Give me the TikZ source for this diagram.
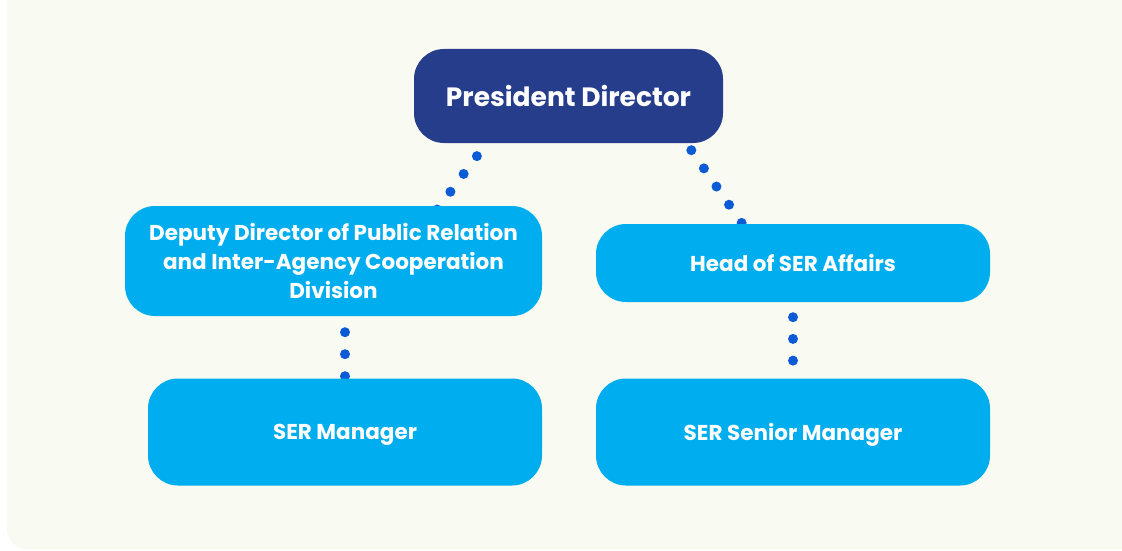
\documentclass[tikz,border=0pt]{standalone}
\usepackage{fontspec}
\setmainfont{Poppins}
\usetikzlibrary{calc}
\definecolor{navy}{HTML}{263D8C}
\definecolor{skyblue}{HTML}{00AEEF}
\definecolor{dotblue}{HTML}{0B5AD6}
\definecolor{cream}{HTML}{F9FAF1}
\pgfdeclarelayer{back}
\pgfdeclarelayer{links}
\pgfsetlayers{back,links,main}
\begin{document}
\begin{tikzpicture}[x=1pt, y=-1pt,
    box/.style={fill=skyblue, rounded corners=30pt, inner sep=0pt, align=center,
        text=white, font=\bfseries\fontsize{21.5}{29}\selectfont},
    oneline/.style={text depth=0pt},
    link/.style={dotblue, line width=10pt, line cap=round, dash pattern=on 0pt off 22pt}]

    % Nền
    \useasboundingbox (0, 0) rectangle (1122, 551);
    \begin{pgfonlayer}{back}
        \fill[white] (0, 0) rectangle (1122, 551);
        \fill[cream, rounded corners=20pt] (7, -40) rectangle (1145, 549);
    \end{pgfonlayer}

    % Các ô
    \node[box, oneline, fill=navy, minimum width=309pt, minimum height=94pt,
        font=\bfseries\fontsize{26.5}{30}\selectfont] (pres) at (568.5, 96) {President Director};
    \node[box, minimum width=417pt, minimum height=110pt] (dep) at (333.5, 261)
        {Deputy Director of Public Relation\\and Inter-Agency Cooperation\\Division};
    \node[box, oneline, minimum width=394pt, minimum height=78pt] (head) at (793, 263) {Head of SER Affairs};
    \node[box, oneline, minimum width=394pt, minimum height=107pt] (man) at (345, 432) {SER Manager};
    \node[box, oneline, minimum width=394pt, minimum height=107pt] (senior) at (793, 432) {SER Senior Manager};

    % Đường chấm nối
    \begin{pgfonlayer}{links}
        \draw[link, dash pattern=on 0pt off 22.2pt, dash phase=6.1pt]
            ($(pres.south)+(-82, 0)$) -- ($(dep.north)+(102, 6)$);
        \draw[link, dash pattern=on 0pt off 22.1pt, dash phase=13.6pt]
            ($(pres.south)+(118, 0)$) -- ($(head.north)+(-48, 4)$);
        \draw[link, dash phase=6pt] (dep.south -| man.north) -- ($(man.north)+(0, 3)$);
        \draw[link, dash pattern=on 0pt off 21.7pt, dash phase=6.7pt]
            (head.south) -- ($(senior.north)+(0, 3)$);
    \end{pgfonlayer}

\end{tikzpicture}
\end{document}
